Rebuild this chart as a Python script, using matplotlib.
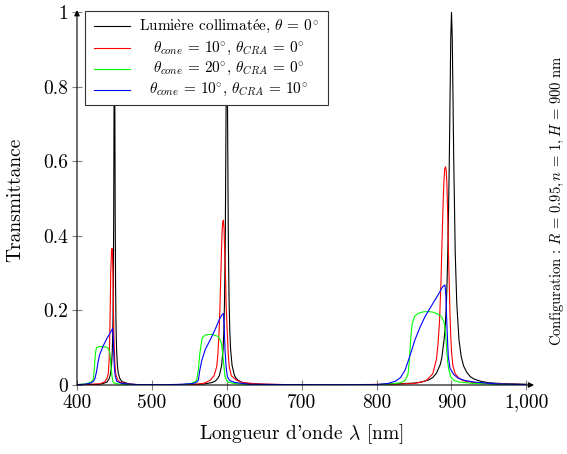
import matplotlib.pyplot as plt
from matplotlib.patches import Rectangle
from matplotlib.ticker import FuncFormatter

plt.rcParams['font.family'] = ['cmr10', 'DejaVu Serif']
plt.rcParams['mathtext.fontset'] = 'cm'
plt.rcParams['axes.formatter.use_mathtext'] = True

# Transmittance curves (wavelength in nm)
black_wl = [400, 420, 430, 435, 440, 443, 445, 446, 447, 447.5, 448, 448.5, 449, 449.5, 450,
            450.5, 451, 451.5, 452, 452.5, 453, 454, 455, 457, 460, 470, 480, 500,
            550, 570, 580, 585, 588, 590, 593, 595, 596, 597, 598, 599, 600,
            601, 602, 603, 604, 605, 607, 610, 612, 615, 620, 630, 650, 700, 750, 800,
            850, 860, 870, 875, 880, 885, 887, 890, 891, 892, 893, 894, 895, 896, 897, 898, 899, 900,
            901, 902, 903, 905, 907, 910, 913, 916, 920, 925, 930, 940, 950, 970, 1000]
black_T = [0.001, 0.001, 0.002, 0.004, 0.008, 0.017, 0.032, 0.05, 0.085, 0.118, 0.173, 0.27, 0.456, 0.771, 1.0,
           0.771, 0.456, 0.27, 0.175, 0.12, 0.087, 0.052, 0.033, 0.018, 0.009, 0.0025, 0.0013, 0.0007,
           0.0012, 0.0029, 0.0064, 0.011, 0.018, 0.025, 0.051, 0.095, 0.14, 0.227, 0.40, 0.727, 1.0,
           0.73, 0.40, 0.23, 0.144, 0.098, 0.053, 0.027, 0.019, 0.013, 0.007, 0.0035, 0.0015, 0.0007, 0.0007, 0.0013,
           0.005, 0.0079, 0.014, 0.02, 0.032, 0.055, 0.072, 0.12, 0.14, 0.17, 0.21, 0.27, 0.35, 0.46, 0.59, 0.76, 0.93, 1.0,
           0.93, 0.77, 0.60, 0.353, 0.22, 0.121, 0.076, 0.052, 0.035, 0.0226, 0.016, 0.0094, 0.006, 0.0035, 0.002]

red_wl = [400, 430, 437, 440, 441.8, 443, 443.6, 444.5, 445, 446, 446.7, 447.4, 448, 448.7, 449.4,
          450.5, 451.6, 454, 457, 465, 480, 520,
          560, 570, 578, 583, 586.5, 588, 589.6, 591, 592.3, 593.6, 594.5, 595.4, 596.3, 597, 598, 599,
          600.7, 602, 603.3, 606, 613, 620, 640, 680, 760,
          820, 850, 860, 867, 875, 880, 882, 884, 886, 887, 888, 889, 890, 891, 892, 893, 894, 895,
          896, 897, 898, 899, 900, 902, 905, 909, 915, 930, 960, 1000]
red_T = [0.001, 0.003, 0.008, 0.018, 0.031, 0.07, 0.12, 0.22, 0.30, 0.355, 0.366, 0.35, 0.30, 0.20, 0.12,
         0.06, 0.031, 0.015, 0.008, 0.003, 0.001, 0.0008,
         0.002, 0.005, 0.013, 0.025, 0.049, 0.08, 0.138, 0.22, 0.317, 0.407, 0.435, 0.442, 0.42, 0.37, 0.317, 0.22,
         0.138, 0.08, 0.049, 0.025, 0.013, 0.007, 0.003, 0.001, 0.0008,
         0.002, 0.004, 0.008, 0.013, 0.03, 0.07, 0.11, 0.17, 0.28, 0.36, 0.43, 0.50, 0.55, 0.58, 0.585, 0.575, 0.53, 0.45,
         0.35, 0.27, 0.19, 0.13, 0.09, 0.05, 0.03, 0.02, 0.012, 0.006, 0.003, 0.001]

green_wl = [400, 412, 418, 421.8, 423, 424, 425, 426, 430, 436, 441, 443, 444, 445, 446.3, 447.5, 448.5,
            455, 470, 520,
            540, 552, 557, 559.8, 562, 564, 567, 571, 580, 588.7, 591, 593, 594.5, 595.4, 597.6, 600, 602,
            610, 630, 700,
            800, 820, 832, 838, 842, 843.5, 844.6, 846, 847.7, 851, 855.7, 862, 869, 876, 882, 887, 890.4,
            892, 893.6, 895, 896.6, 899, 902.5, 910, 930, 960, 1000]
green_T = [0.001, 0.003, 0.007, 0.015, 0.04, 0.07, 0.09, 0.1, 0.103, 0.103, 0.1, 0.092, 0.085, 0.06, 0.031, 0.012, 0.006,
           0.003, 0.001, 0.0008,
           0.001, 0.004, 0.008, 0.013, 0.04, 0.085, 0.125, 0.134, 0.136, 0.13, 0.122, 0.11, 0.085, 0.066, 0.022, 0.012, 0.008,
           0.004, 0.001, 0.0008,
           0.001, 0.003, 0.006, 0.012, 0.03, 0.06, 0.094, 0.135, 0.166, 0.185, 0.192, 0.196, 0.197, 0.195, 0.19, 0.182, 0.166,
           0.14, 0.094, 0.06, 0.04, 0.022, 0.013, 0.008, 0.004, 0.002, 0.001]

blue_wl = [400, 410, 418, 422, 424, 426, 428, 430, 435, 440, 445, 447.7, 448.6, 449.3, 450, 451, 453,
           460, 480, 520,
           540, 555, 560, 562, 564, 566.5, 571, 577.6, 584, 591, 593.5, 595.4, 596.5, 597.6, 599, 600.7, 604,
           610, 630, 680, 760,
           800, 815, 825, 832, 838, 844, 851, 858, 864.6, 871, 878, 884, 887, 889.5, 891.3, 892.5, 893.6,
           894.7, 895.7, 898, 903, 909, 918, 930, 960, 1000]
blue_T = [0.001, 0.002, 0.005, 0.01, 0.018, 0.035, 0.06, 0.08, 0.105, 0.125, 0.142, 0.152, 0.12, 0.07, 0.045, 0.025, 0.01,
          0.004, 0.001, 0.0008,
          0.002, 0.004, 0.008, 0.013, 0.04, 0.065, 0.094, 0.12, 0.147, 0.18, 0.188, 0.192, 0.16, 0.094, 0.05, 0.022, 0.012,
          0.007, 0.002, 0.001, 0.0008,
          0.001, 0.004, 0.01, 0.02, 0.04, 0.075, 0.12, 0.155, 0.183, 0.205, 0.228, 0.248, 0.26, 0.266, 0.268, 0.24, 0.174,
          0.12, 0.076, 0.045, 0.028, 0.018, 0.012, 0.008, 0.003, 0.001]

labels = [r'Lumi$\grave{\mathrm{e}}$re collimat$\acute{\mathrm{e}}$e, $\theta\,=\,0^{\circ}$',
          r'$\theta_{cone}\,=\,10^{\circ},\,\theta_{CRA}\,=\,0^{\circ}$',
          r'$\theta_{cone}\,=\,20^{\circ},\,\theta_{CRA}\,=\,0^{\circ}$',
          r'$\theta_{cone}\,=\,10^{\circ},\,\theta_{CRA}\,=\,10^{\circ}$']
colors = ['black', 'red', '#00ff00', 'blue']

x_ticks = [400, 500, 600, 700, 800, 900, 1000]
y_ticks = [0, 0.2, 0.4, 0.6, 0.8, 1]

fig = plt.figure(figsize=(5.67, 4.54), dpi=100)
ax = fig.add_axes([77 / 567, 69 / 454, 449.4 / 567, 373 / 454])

series = [(black_wl, black_T), (red_wl, red_T), (green_wl, green_T), (blue_wl, blue_T)]
for (wl, t), c in zip(series, colors):
    ax.plot(wl, t, color=c, lw=0.8)

ax.set_xlim(400, 1000)
ax.set_ylim(0, 1)
ax.set_xticks(x_ticks)
ax.set_yticks(y_ticks)
ax.xaxis.set_major_formatter(FuncFormatter(lambda v, p: f'{int(v):,}'))
ax.yaxis.set_major_formatter(FuncFormatter(lambda v, p: f'{v:g}'))
ax.tick_params(direction='inout', length=6.5, width=0.8, color='0.5', labelsize=14, pad=3)

for s in ax.spines.values():
    s.set_visible(False)
ax.annotate('', xy=(1.017, 0), xytext=(0, 0), xycoords='axes fraction',
            arrowprops=dict(arrowstyle='-|>', color='black', lw=0.8, shrinkA=0, shrinkB=0,
                            mutation_scale=8))
ax.annotate('', xy=(0, 1.005), xytext=(0, 0), xycoords='axes fraction',
            arrowprops=dict(arrowstyle='-|>', color='black', lw=0.8, shrinkA=0, shrinkB=0,
                            mutation_scale=8))

# cmr10 puts the right quote on the ascii apostrophe
ax.set_xlabel(r"Longueur d'onde $\lambda$ [nm]", fontsize=14, labelpad=8)
fig.text(15 / 567, 1 - 200 / 454, 'Transmittance', rotation=90, fontsize=14,
         ha='center', va='center')

# legend box drawn by hand so the labels are centred like in the original
ax.add_patch(Rectangle((0.0178, 0.7515), 0.5407, 0.2505, transform=ax.transAxes,
                       facecolor='white', edgecolor='0.2', lw=0.8, zorder=5, clip_on=False))
rows = [0.9617, 0.9035, 0.848, 0.7917]
for lab, c, yr in zip(labels, colors, rows):
    ax.plot([0.0378, 0.1173], [yr, yr], color=c, lw=0.8, transform=ax.transAxes, zorder=6,
            clip_on=False)
    ax.text(0.337, yr, lab, transform=ax.transAxes, ha='center', va='center', fontsize=11,
            zorder=6)

fig.text(557 / 567, 1 - 201 / 454,
         r'Configuration : $R\,=\,0.95, n\,=\,1, H\,=\,900$ nm',
         rotation=90, fontsize=10.5, ha='center', va='center')

fig.savefig('out.png', dpi=100)
